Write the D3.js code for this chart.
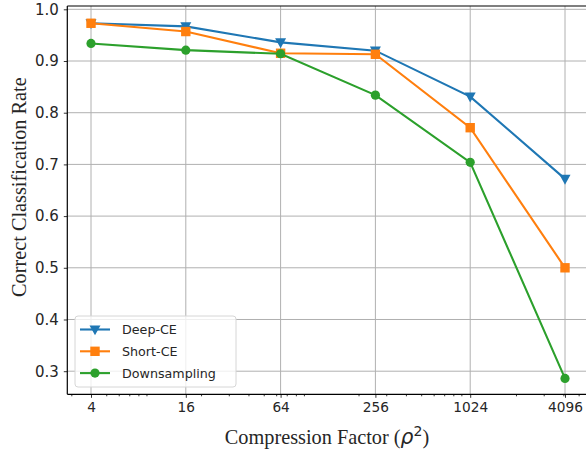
<!DOCTYPE html>
<html>
<head>
<meta charset="utf-8">
<script src="https://cdn.jsdelivr.net/npm/d3@7"></script>
<style>
  body { margin: 0; background: #fff; }
  svg { display: block; }
</style>
</head>
<body>
<svg id="chart" width="586" height="456"></svg>
<script>
// Data
const factors = [4, 16, 64, 256, 1024, 4096];
const deepCE = [0.973, 0.967, 0.936, 0.920, 0.831, 0.672];
const shortCE = [0.973, 0.957, 0.915, 0.913, 0.771, 0.500];
const downsampling = [0.934, 0.921, 0.914, 0.834, 0.704, 0.286];
const seriesNames = ['Deep-CE', 'Short-CE', 'Downsampling'];
const yTicks = [0.3, 0.4, 0.5, 0.6, 0.7, 0.8, 0.9, 1.0];

const colors = ['#1f77b4', '#ff7f0e', '#2ca02c'];
const symbols = ['tri', 'square', 'circle'];
const allSeries = [deepCE, shortCE, downsampling];

// plot box (right spine falls just outside the picture)
const plotLeft = 67.3, plotRight = 588.7, plotTop = 6, plotBottom = 394.3;

const x = d3.scaleLog().base(2)
    .domain([Math.pow(2, 1.5), Math.pow(2, 12.5)])
    .range([plotLeft, plotRight]);
const y = d3.scaleLinear()
    .domain([0.2553, 1.0064])
    .range([plotBottom, plotTop]);

const svg = d3.select('#chart');

svg.append('defs').append('clipPath').attr('id', 'plotClip')
    .append('rect')
    .attr('x', plotLeft).attr('y', plotTop)
    .attr('width', plotRight - plotLeft).attr('height', plotBottom - plotTop);

// grid
const grid = svg.append('g');
grid.selectAll('line.gx')
    .data(factors).enter().append('line')
    .attr('x1', d => x(d)).attr('x2', d => x(d))
    .attr('y1', plotTop).attr('y2', plotBottom)
    .attr('stroke', '#b0b0b0').attr('stroke-width', 1);
grid.selectAll('line.gy')
    .data(yTicks).enter().append('line')
    .attr('y1', d => y(d)).attr('y2', d => y(d))
    .attr('x1', plotLeft).attr('x2', plotRight)
    .attr('stroke', '#b0b0b0').attr('stroke-width', 1);

// axes
const minorTicks = [];
[1, 10, 100, 1000].forEach(dec => {
    for (let k = 2; k <= 9; k++) {
        const v = k * dec;
        if (v > x.domain()[0] && v < x.domain()[1] && !factors.includes(v)) minorTicks.push(v);
    }
});

const xAxis = d3.axisBottom(x)
    .tickValues(factors)
    .tickFormat(d3.format('d'))
    .tickSize(3.5).tickPadding(4);
const xMinor = d3.axisBottom(x)
    .tickValues(minorTicks)
    .tickFormat('')
    .tickSize(2);
const yAxis = d3.axisLeft(y)
    .tickValues(yTicks)
    .tickFormat(d3.format('.1f'))
    .tickSize(3.5).tickPadding(5);

function styleAxis(g, size) {
    g.select('.domain').remove();
    g.selectAll('.tick line').attr('stroke', '#000').attr('stroke-width', 0.8);
    g.selectAll('.tick text')
        .attr('fill', '#262626')
        .style('font-family', 'DejaVu Sans, sans-serif')
        .style('font-size', size + 'px');
}

svg.append('g').attr('transform', `translate(0,${plotBottom})`).call(xMinor).call(styleAxis, 13.7);
svg.append('g').attr('transform', `translate(0,${plotBottom})`).call(xAxis).call(styleAxis, 13.7);
svg.append('g').attr('transform', `translate(${plotLeft},0)`).call(yAxis).call(styleAxis, 15);

// spines
svg.append('line').attr('x1', plotLeft).attr('x2', plotRight).attr('y1', plotTop).attr('y2', plotTop)
    .attr('stroke', '#000').attr('stroke-width', 1.2);
svg.append('line').attr('x1', plotLeft).attr('x2', plotRight).attr('y1', plotBottom).attr('y2', plotBottom)
    .attr('stroke', '#000').attr('stroke-width', 1.2);
svg.append('line').attr('x1', plotLeft).attr('x2', plotLeft).attr('y1', plotTop).attr('y2', plotBottom)
    .attr('stroke', '#000').attr('stroke-width', 1.2);

// markers
function drawMarker(g, kind, color, cx, cy) {
    if (kind === 'tri') {
        const s = 5.5;
        g.append('path')
            .attr('d', `M ${cx - s},${cy - s * 0.75} L ${cx + s},${cy - s * 0.75} L ${cx},${cy + s * 1.05} Z`)
            .attr('fill', color);
    } else if (kind === 'square') {
        g.append('rect')
            .attr('x', cx - 4.7).attr('y', cy - 4.7)
            .attr('width', 9.4).attr('height', 9.4)
            .attr('fill', color);
    } else {
        g.append('circle')
            .attr('cx', cx).attr('cy', cy).attr('r', 4.6)
            .attr('fill', color);
    }
}

const line = d3.line()
    .x(d => x(d[0]))
    .y(d => y(d[1]));

const plot = svg.append('g').attr('clip-path', 'url(#plotClip)');
allSeries.forEach((vals, i) => {
    const pts = factors.map((f, j) => [f, vals[j]]);
    plot.append('path')
        .attr('d', line(pts))
        .attr('fill', 'none')
        .attr('stroke', colors[i])
        .attr('stroke-width', 2.1);
    const mg = plot.append('g');
    pts.forEach(p => drawMarker(mg, symbols[i], colors[i], x(p[0]), y(p[1])));
});

// legend
const legend = svg.append('g');
legend.append('rect')
    .attr('x', 75).attr('y', 316)
    .attr('width', 161).attr('height', 71)
    .attr('rx', 3)
    .attr('fill', 'rgba(255,255,255,0.8)')
    .attr('stroke', '#d6d6d6').attr('stroke-width', 1);
seriesNames.forEach((name, i) => {
    const ly = 329.5 + i * 21.8;
    legend.append('line')
        .attr('x1', 80).attr('x2', 110).attr('y1', ly).attr('y2', ly)
        .attr('stroke', colors[i]).attr('stroke-width', 2.1);
    drawMarker(legend, symbols[i], colors[i], 95, ly);
    legend.append('text')
        .attr('x', 122).attr('y', ly + 4.8)
        .attr('fill', '#262626')
        .style('font-family', 'DejaVu Sans, sans-serif')
        .style('font-size', '12.7px')
        .text(name);
});

// axis labels
svg.append('text')
    .attr('transform', `translate(25.5,${(plotTop + plotBottom) / 2 - 13}) rotate(-90)`)
    .attr('text-anchor', 'middle')
    .attr('fill', '#262626')
    .style('font-family', 'Liberation Serif, serif')
    .style('font-size', '20.3px')
    .text('Correct Classification Rate');

const xl = svg.append('text')
    .attr('x', 327).attr('y', 443.5)
    .attr('text-anchor', 'middle')
    .attr('fill', '#262626')
    .style('font-family', 'Liberation Serif, serif')
    .style('font-size', '20.3px');
xl.append('tspan').text('Compression Factor (');
xl.append('tspan')
    .style('font-family', 'DejaVu Sans, sans-serif')
    .style('font-style', 'italic')
    .text('ρ');
xl.append('tspan')
    .attr('dy', -8)
    .style('font-family', 'DejaVu Sans, sans-serif')
    .style('font-size', '14px')
    .text('2');
xl.append('tspan')
    .attr('dy', 8)
    .text(')');
</script>
</body>
</html>
